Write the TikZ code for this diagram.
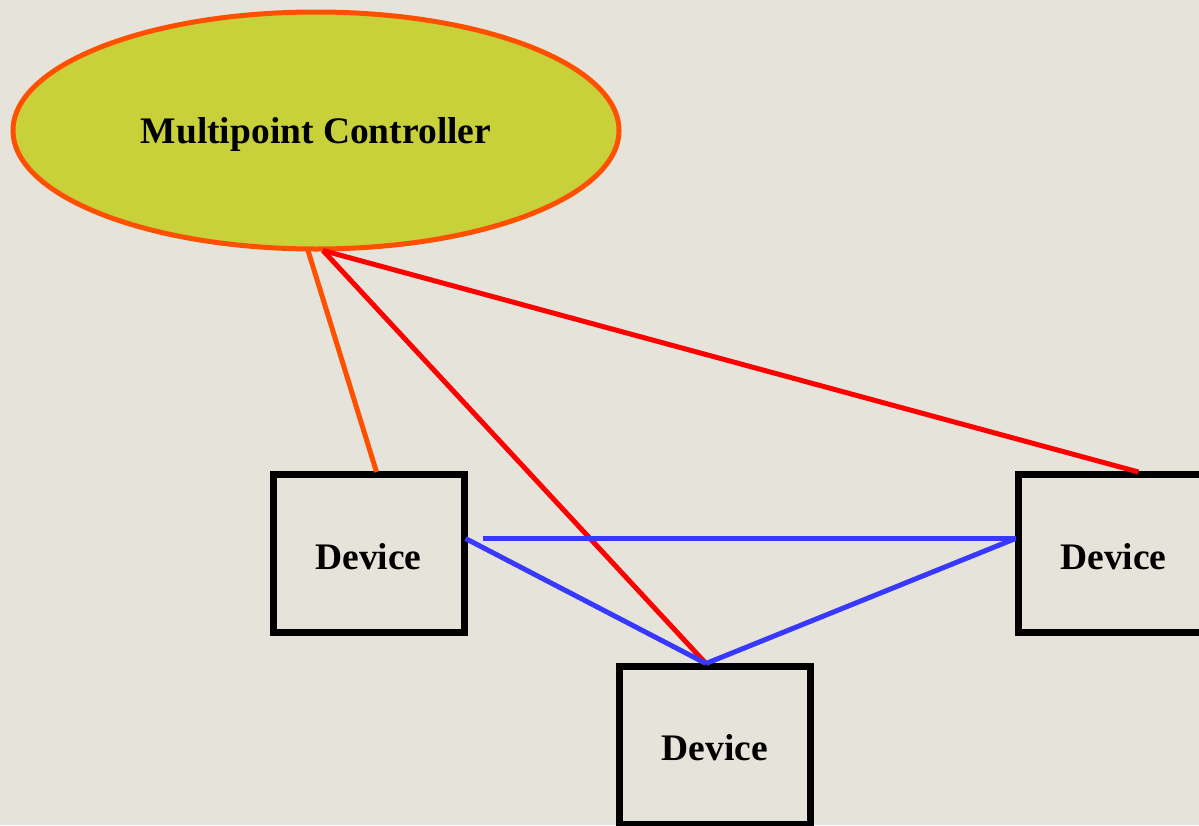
\documentclass[tikz,border=0pt]{standalone}
\usepackage{fontspec}
\setmainfont{Liberation Serif}
\usetikzlibrary{shapes.geometric}
\definecolor{bgc}{HTML}{E6E4DA}
\definecolor{mcfill}{HTML}{C8D13A}
\definecolor{mcline}{HTML}{FF5000}
\definecolor{linkred}{HTML}{FF0000}
\definecolor{linkblue}{HTML}{3838FF}
\tikzset{
  ctrl/.style={ellipse, draw=mcline, fill=mcfill, line width=5pt, inner sep=0pt,
    minimum width=606pt, minimum height=237pt, text height=34pt, text depth=8pt,
    font=\fontsize{37.5}{40}\selectfont\bfseries},
  devbox/.style={rectangle, draw=black, line width=7pt, inner sep=0pt,
    minimum width=191pt, minimum height=158pt, text height=31pt, text depth=0pt,
    font=\fontsize{37.5}{40}\selectfont\bfseries},
  link/.style={line width=5pt},
}
\begin{document}
\begin{tikzpicture}[x=1pt, y=-1pt]
  \fill[bgc] (0,0) rectangle (1199,825);
  \useasboundingbox (0,0) rectangle (1199,825);
  \clip (0,0) rectangle (1199,825);

  \node[ctrl] (mc) at (316,130.5) {Multipoint Controller};
  \node[devbox] (d1) at (368.5,553.5) {Device};
  \node[devbox] (d2) at (1113.5,553.5) {Device};
  \node[devbox] (d3) at (715,745) {Device};

  % controller links
  \draw[link, mcline] ([xshift=-8pt,yshift=1pt]mc.south) -- ([xshift=8pt,yshift=-1pt]d1.north);
  \draw[link, linkred] ([xshift=7pt,yshift=1pt]mc.south) -- ([xshift=-9pt,yshift=-1pt]d3.north);
  \draw[link, linkred] ([xshift=7pt,yshift=1pt]mc.south) -- ([xshift=25pt,yshift=-1pt]d2.north);

  % device-to-device links
  \draw[link, linkblue] ([xshift=-2pt,yshift=15pt]d1.east) -- ([xshift=-9pt,yshift=-1pt]d3.north);
  \draw[link, linkblue] ([xshift=-9pt,yshift=-1pt]d3.north) -- ([xshift=1pt,yshift=15pt]d2.west);
  \draw[link, linkblue] ([xshift=15pt,yshift=15pt]d1.east) -- ([xshift=1pt,yshift=15pt]d2.west);
\end{tikzpicture}
\end{document}
